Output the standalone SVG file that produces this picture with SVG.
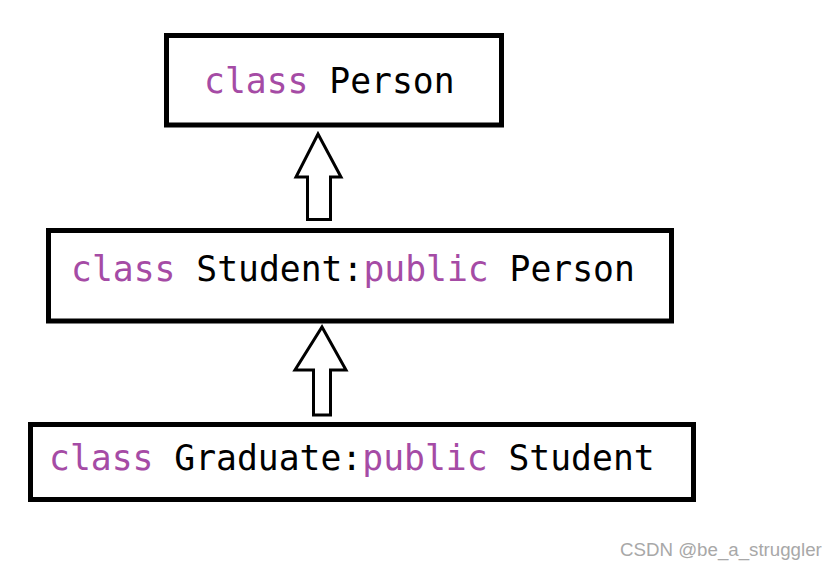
<svg xmlns="http://www.w3.org/2000/svg" width="835" height="568" viewBox="0 0 835 568">
<style>
.box{fill:#fff;stroke:#000;stroke-width:5}
.arr{fill:#fff;stroke:#000;stroke-width:3;stroke-linejoin:miter}
.t{font-family:"DejaVu Sans Mono","Liberation Mono",monospace;font-size:34.7px;fill:#000}
.k{fill:#a54ba5}
.wm{font-family:"Liberation Sans",Arial,sans-serif;font-size:18.7px;fill:#a8a8a8}
</style>
<rect width="835" height="568" fill="#fff"/>
<g id="person">
<rect class="box" x="166.5" y="35.5" width="335" height="89.5"/>
<text class="t" x="204" y="93"><tspan class="k">class</tspan> Person</text>
</g>
<g id="student">
<rect class="box" x="48.5" y="230.5" width="623" height="90.5"/>
<text class="t" x="71" y="281"><tspan class="k">class</tspan> Student:<tspan class="k">public</tspan> Person</text>
</g>
<g id="graduate">
<rect class="box" x="30.5" y="424.5" width="663" height="75"/>
<text class="t" x="49" y="470"><tspan class="k">class</tspan> Graduate:<tspan class="k">public</tspan> Student</text>
</g>
<g id="connectors">
<polygon class="arr" points="318,134 341,177 330.5,177 330.5,219.5 307.5,219.5 307.5,177 296,177"/>
<polygon class="arr" points="322,327 346,370 330.5,370 330.5,415 313.5,415 313.5,370 295,370"/>
</g>
<text class="wm" x="620" y="556">CSDN @be_a_struggler</text>
</svg>
